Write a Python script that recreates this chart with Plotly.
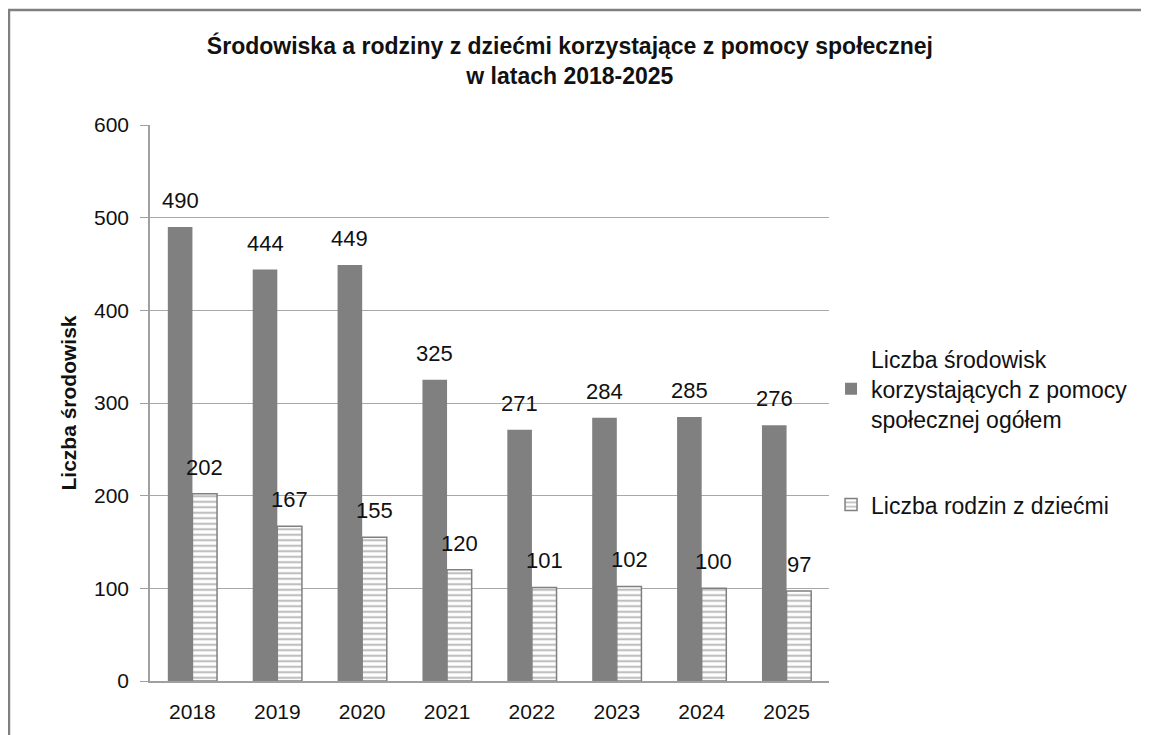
import plotly.graph_objects as go

years = [2018, 2019, 2020, 2021, 2022, 2023, 2024, 2025]
srodowiska = [490, 444, 449, 325, 271, 284, 285, 276]
rodziny = [202, 167, 155, 120, 101, 102, 100, 97]

name_srodowiska = "Liczba środowisk<br>korzystających z pomocy<br>społecznej ogółem"
name_rodziny = "Liczba rodzin z dziećmi"

GRAY = "#808080"
FONT = "Liberation Sans, Arial, sans-serif"
BAR_W = 0.29

fig = go.Figure()
fig.add_trace(
    go.Bar(
        x=years,
        y=srodowiska,
        name=name_srodowiska,
        width=BAR_W,
        offset=-BAR_W,
        marker=dict(color=GRAY, line=dict(width=0)),
        legendgroup="a",
    )
)
fig.add_trace(
    go.Bar(
        x=years,
        y=rodziny,
        name=name_rodziny,
        width=BAR_W,
        offset=0,
        marker=dict(
            color="white",
            line=dict(color=GRAY, width=1.5),
            pattern=dict(shape="-", fgcolor=GRAY, bgcolor="white", size=5.5, solidity=0.4),
        ),
        legendgroup="b",
    )
)

# value labels above the bars
for yr, v in zip(years, srodowiska):
    fig.add_annotation(x=yr - BAR_W / 2, y=v, text=str(v), showarrow=False,
                       yanchor="bottom", yshift=12, font=dict(size=22, color="#111"))
for yr, v in zip(years, rodziny):
    fig.add_annotation(x=yr + BAR_W / 2, y=v, text=str(v), showarrow=False,
                       yanchor="bottom", yshift=12, font=dict(size=22, color="#111"))

# frame around the chart (left and top edges visible)
fig.add_shape(type="rect", xref="paper", yref="paper",
              x0=-0.2077, x1=1.6, y0=-0.2, y1=1.2068,
              line=dict(color=GRAY, width=2.5))

fig.update_layout(
    width=1149,
    height=735,
    margin=dict(l=142, r=328, t=117, b=62),
    paper_bgcolor="white",
    plot_bgcolor="white",
    font=dict(family=FONT, color="#111"),
    title=dict(
        text="<b>Środowiska a rodziny z dziećmi korzystające z pomocy społecznej<br>w latach 2018-2025</b>",
        x=0.489, xref="container", xanchor="center",
        y=0.937, yref="container", yanchor="top",
        font=dict(size=23, color="#111"),
    ),
    xaxis=dict(
        range=[2017.5, 2025.5],
        tickvals=years,
        ticktext=[str(y) for y in years],
        tickfont=dict(size=21),
        ticklabelstandoff=11,
        showgrid=False,
        showline=True,
        linecolor="#a0a0a0",
        linewidth=1.5,
        ticks="",
    ),
    yaxis=dict(
        range=[0, 600],
        dtick=100,
        tickfont=dict(size=21),
        ticklabelstandoff=7,
        showgrid=True,
        gridcolor="#a8a8a8",
        gridwidth=1,
        showline=True,
        linecolor="#a0a0a0",
        linewidth=1.5,
        ticks="outside",
        ticklen=8,
        tickcolor="#a0a0a0",
        zeroline=False,
        title=dict(text="<b>Liczba środowisk</b>", font=dict(size=21), standoff=12),
    ),
    legend=dict(
        x=1.003, xanchor="left",
        y=0.618, yanchor="top",
        traceorder="grouped",
        tracegroupgap=53,
        font=dict(size=23),
        bgcolor="rgba(0,0,0,0)",
    ),
    showlegend=True,
)

fig.write_html("out.html")
